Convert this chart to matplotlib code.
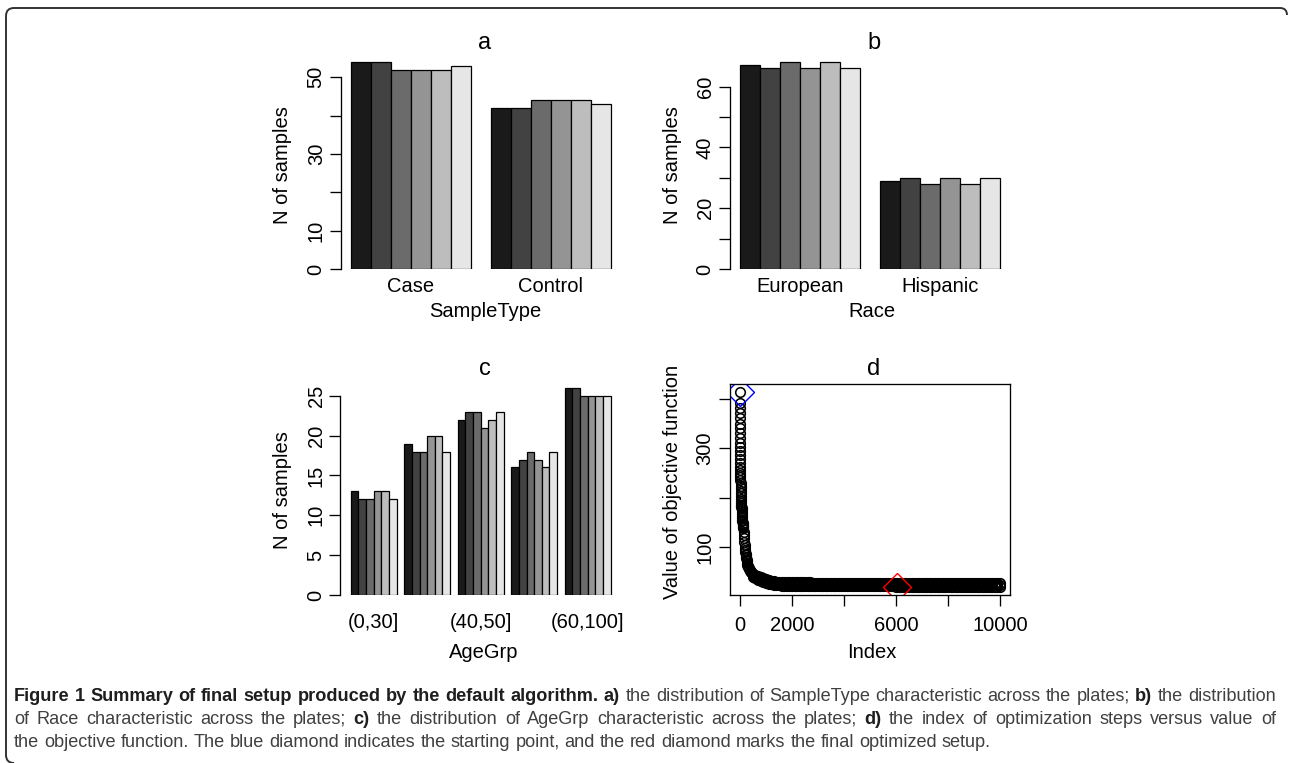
import numpy as np
import matplotlib
matplotlib.use('Agg')
import matplotlib.pyplot as plt
from matplotlib.path import Path
from matplotlib.patches import PathPatch

plt.rcParams['font.family'] = ['Liberation Sans', 'DejaVu Sans']

W, H = 1289, 763

# ---- data ----
sample_types = ['Case', 'Control']
sampletype_counts = [[54, 54, 52, 52, 52, 53],
                     [42, 42, 44, 44, 44, 43]]

races = ['European', 'Hispanic']
race_counts = [[67, 66, 68, 66, 68, 66],
               [29, 30, 28, 30, 28, 30]]

age_groups = ['(0,30]', '(30,40]', '(40,50]', '(50,60]', '(60,100]']
age_shown = ['(0,30]', '', '(40,50]', '', '(60,100]']   # R drops overlapping names
age_counts = [[13, 12, 12, 13, 13, 12],
              [19, 18, 18, 20, 20, 18],
              [22, 23, 23, 21, 22, 23],
              [16, 17, 18, 17, 16, 18],
              [26, 26, 25, 25, 25, 25]]

# objective function trace, steep start
steep_idx = [1, 2, 3, 4, 5, 6, 7, 8, 9, 10, 11, 12, 13, 14, 15, 16, 17, 18, 19, 20,
             22, 24, 26, 28, 30, 33, 36, 40, 44, 48, 52, 56, 60, 65, 70, 75, 80, 85,
             90, 95, 100, 105, 110, 115, 120, 125, 130, 140, 150, 160, 170, 180, 190,
             200, 210, 220, 230, 240, 250, 260, 270, 280, 290, 300, 320, 340, 360,
             380, 400, 420, 440, 460, 480]
steep_val = [413, 391, 381, 371, 361, 350, 340, 330, 320, 311, 302, 294, 286, 278,
             270, 263, 257, 251, 246, 241, 236, 230, 224, 219, 214, 209, 204, 198,
             193, 189, 186, 183, 181, 179, 175, 171, 167, 163, 160, 156, 153, 150,
             147, 145, 142, 140, 138, 131, 124, 118, 111, 105, 99, 95, 91, 87, 84,
             81, 78, 75, 72, 68, 65, 63, 60, 58, 56, 54, 52, 51, 50, 49, 48]

# long tail, every 100 steps from 500 to 10000: upper edge, middle, lower edge of the band
tail_idx = list(range(500, 10001, 100))
tail_hi = [46, 44, 42, 40, 38, 36, 34, 32, 31, 30, 30,
           29, 29, 29, 29, 29, 29, 29, 29, 29, 29, 29, 29,
           28, 28, 28, 28, 28, 28, 28, 28, 28, 28, 28, 28, 28, 28, 28, 28,
           28, 28, 28, 28, 28, 28, 28, 28, 28, 28, 28, 28, 28, 28, 28, 28,
           28, 28, 28, 28, 28, 28, 28, 28, 28, 28, 28, 28, 28, 28, 28, 28,
           28, 28, 28, 28, 28, 28, 28, 28, 28, 28, 28, 28, 28, 28, 28, 28,
           28, 28, 28, 28, 28, 28, 28, 28, 28]
tail_mid = [43, 40.5, 38, 35.5, 33.5, 31.5, 30, 28.5, 27.5, 26.5, 26.5,
            25.5, 25.5, 25.5, 25.5, 25.5, 25.5, 25.5, 25.5, 25.5, 25.5, 25.5, 25.5,
            24.5, 24.5, 24.5, 24.5, 24.5, 24.5, 24.5, 24.5, 24.5, 24.5, 24.5, 24.5,
            24.5, 24.5, 24.5, 24.5, 24.5, 24.5, 24.5, 24.5, 24.5, 24.5, 24.5, 24.5,
            24.5, 24.5, 24.5, 24.5, 24.5, 24.5, 24.5, 24.5,
            24,
            24, 24, 24, 24, 24, 24, 24, 24, 24, 24, 24, 24, 24, 24, 24, 24,
            24, 24, 24, 24, 24, 24, 24, 24, 24, 24, 24, 24, 24, 24, 24, 24,
            24, 24, 24, 24, 24, 24, 24, 24]
tail_lo = [40, 37, 34, 31, 29, 27, 26, 25, 24, 23, 23,
           22, 22, 22, 22, 22, 22, 22, 22, 22, 22, 22, 22,
           21, 21, 21, 21, 21, 21, 21, 21, 21, 21, 21, 21, 21, 21, 21, 21,
           21, 21, 21, 21, 21, 21, 21, 21, 21, 21, 21, 21, 21, 21, 21, 21,
           19.4,
           20, 20, 20, 20, 20, 20, 20, 20, 20, 20, 20, 20, 20, 20, 20, 20,
           20, 20, 20, 20, 20, 20, 20, 20, 20, 20, 20, 20, 20, 20, 20, 20,
           20, 20, 20, 20, 20, 20, 20, 20]

start_idx, start_val = 1, 413
best_idx, best_val = 6030, 19.4

bar_colors = ['#1a1a1a', '#424242', '#6b6b6b', '#949494', '#bdbdbd', '#e6e6e6']

fig = plt.figure(figsize=(W / 100, H / 100), dpi=100)
fig.patch.set_facecolor('white')

FS = 14.5


def px_axes(l, t, r, b):
    return fig.add_axes([l / W, 1 - b / H, (r - l) / W, (b - t) / H])


def ftext(x, y, s, **kw):
    return fig.text(x / W, 1 - y / H, s, **kw)


def barplot(ax, names, counts, ymax, yticks, ylabels, name_pad):
    ngroups = len(counts)
    for g, vals in enumerate(counts):
        lefts = 1 + g * 7 + np.arange(len(vals))
        ax.bar(lefts, vals, width=1, align='edge', color=bar_colors,
               edgecolor='black', linewidth=0.9)
    hi = ngroups * 7
    ext = 0.04 * (hi - 1)
    ax.set_xlim(1 - ext, hi + ext)
    ax.set_ylim(0, ymax)
    for s in ['top', 'right', 'bottom']:
        ax.spines[s].set_visible(False)
    ax.spines['left'].set_bounds(yticks[0], yticks[-1])
    ax.spines['left'].set_linewidth(0.95)
    ax.set_yticks(yticks)
    ax.set_yticklabels(ylabels, rotation=90, va='center')
    ax.set_xticks([1 + g * 7 + 3 for g in range(ngroups)])
    ax.set_xticklabels(names)
    ax.tick_params(axis='y', length=7.7, width=0.95, pad=3, labelsize=FS)
    ax.tick_params(axis='x', length=0, pad=name_pad, labelsize=FS)
    ax.set_facecolor('none')


# panel a
ax_a = px_axes(340.6, 58.3, 621, 269)
barplot(ax_a, sample_types, sampletype_counts, 54.95,
        [0, 10, 20, 30, 40, 50], ['0', '10', '', '30', '', '50'], 5.5)
# panel b
ax_b = px_axes(729.6, 58.3, 1010, 269)
barplot(ax_b, races, race_counts, 69.3,
        [0, 10, 20, 30, 40, 50, 60], ['0', '', '20', '', '40', '', '60'], 5.5)
# panel c
ax_c = px_axes(340.4, 384.3, 621, 595)
barplot(ax_c, age_shown, age_counts, 26.44,
        [0, 5, 10, 15, 20, 25], ['0', '5', '10', '15', '20', '25'], 13)

# panel d
ax_d = px_axes(729.5, 384.3, 1010.5, 595)
pt_style = dict(ls='none', marker='o', ms=6.9, mfc='none', mec='black', mew=1.15)
ax_d.plot(steep_idx, steep_val, **pt_style)
ax_d.plot(tail_idx, tail_hi, **pt_style)
ax_d.plot(tail_idx, tail_mid, **pt_style)
ax_d.plot(tail_idx, tail_lo, **pt_style)
ax_d.plot([start_idx], [start_val], 'D', ms=14.3, mfc='none', mec='#0000ff', mew=1.0)
ax_d.plot([best_idx], [best_val], 'D', ms=14.3, mfc='none', mec='#ff0000', mew=1.0)
ax_d.set_xlim(-399, 10400)
ax_d.set_ylim(3.6, 429.3)
ax_d.set_xticks([0, 2000, 4000, 6000, 8000, 10000])
ax_d.set_xticklabels(['0', '2000', '', '6000', '', '10000'])
ax_d.set_yticks([100, 200, 300, 400])
ax_d.set_yticklabels(['100', '', '300', ''], rotation=90, va='center')
ax_d.tick_params(axis='x', length=7.9, width=0.95, pad=7, labelsize=FS)
ax_d.tick_params(axis='y', length=7.9, width=0.95, pad=3, labelsize=FS)
for s in ax_d.spines.values():
    s.set_linewidth(0.95)

# titles and axis labels
for x, y, s in [(485, 49.3, 'a'), (874, 49.3, 'b'), (485, 375, 'c'), (874, 375, 'd')]:
    ftext(x, y, s, ha='center', va='baseline', fontsize=17)
for x, y, s in [(485, 317, 'SampleType'), (872, 317, 'Race'),
                (484, 658, 'AgeGrp'), (872, 658, 'Index')]:
    ftext(x, y, s, ha='center', va='baseline', fontsize=FS)
for x, y, s in [(283, 165, 'N of samples'), (672, 165, 'N of samples'),
                (283, 490, 'N of samples'), (672, 482, 'Value of objective function')]:
    ftext(x, y, s, ha='center', va='center', rotation=90, fontsize=FS)

# caption, justified like the journal layout
cap_font = ['Liberation Sans', 'DejaVu Sans']
renderer = fig.canvas.get_renderer()


def text_width(s, bold, fs):
    kw = dict(fontsize=fs, family=cap_font, fontweight='bold' if bold else 'normal')
    t = fig.text(0, 0, '|' + s + '|', **kw)
    w = t.get_window_extent(renderer=renderer).width
    t.remove()
    t = fig.text(0, 0, '||', **kw)
    w2 = t.get_window_extent(renderer=renderer).width
    t.remove()
    return w - w2


lines = [
    [('Figure 1 Summary of final setup produced by the default algorithm.', True),
     ('a)', True), ('the distribution of SampleType characteristic across the plates;', False),
     ('b)', True), ('the distribution', False)],
    [('of Race characteristic across the plates;', False), ('c)', True),
     ('the distribution of AgeGrp characteristic across the plates;', False),
     ('d)', True), ('the index of optimization steps versus value of', False)],
    [('the objective function. The blue diamond indicates the starting point, '
      'and the red diamond marks the final optimized setup.', False)],
]
words = [[(w, b) for s, b in parts for w in s.split(' ')] for parts in lines]

x0, x1 = 14, 1276
fs0 = 10
nat = sum(text_width(w, b, fs0) for w, b in words[0]) + \
    (len(words[0]) - 1) * text_width(' ', False, fs0)
cap_fs = fs0 * (x1 - x0) / nat
space_w = text_width(' ', False, cap_fs)

for i, (y, ws) in enumerate(zip([701, 724, 747], words)):
    widths = [text_width(w, b, cap_fs) for w, b in ws]
    if i < 2:
        gap = (x1 - x0 - sum(widths)) / (len(ws) - 1)
    else:
        gap = space_w
    x = x0
    for (w, b), wd in zip(ws, widths):
        ftext(x, y, w, ha='left', va='baseline', fontsize=cap_fs, family=cap_font,
              fontweight='bold' if b else 'normal',
              color='#1e1e1e' if b else '#404040')
        x += wd + gap

# frame with rounded corners
def fp(x, y):
    return (x / W, 1 - y / H)

verts = [fp(1287, 15), fp(1287, 8), fp(1280, 8), fp(14, 8), fp(6, 8), fp(6, 16),
         fp(6, 755), fp(6, 763), fp(14, 763)]
codes = [Path.MOVETO, Path.CURVE3, Path.CURVE3, Path.LINETO, Path.CURVE3, Path.CURVE3,
         Path.LINETO, Path.CURVE3, Path.CURVE3]
fig.patches.append(PathPatch(Path(verts, codes), transform=fig.transFigure,
                             fill=False, edgecolor='#333333', linewidth=1.4))

fig.savefig('out.png', dpi=100)
